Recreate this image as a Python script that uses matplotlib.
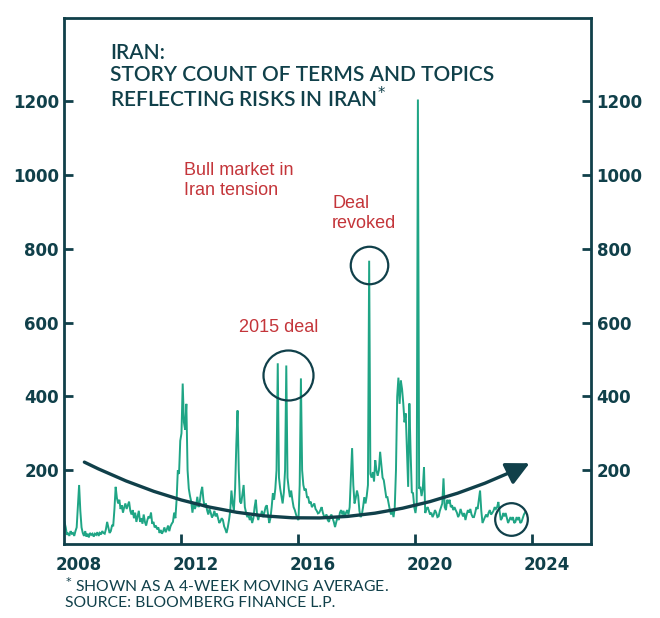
import numpy as np
import matplotlib
matplotlib.use("Agg")
import matplotlib.pyplot as plt
from matplotlib.patches import FancyArrowPatch

# Story count (4-week moving average) at half-month steps
counts_2008 = [60, 45, 25, 30, 22, 35, 28, 30, 22, 35, 45, 100, 160, 90, 45, 30, 22, 35, 20, 28, 18, 30, 25, 28]
counts_2009 = [20, 28, 25, 32, 22, 30, 26, 35, 30, 28, 40, 60, 45, 30, 35, 50, 50, 95, 155, 125, 110, 120, 95, 105]
counts_2010 = [85, 100, 110, 95, 105, 115, 90, 80, 92, 70, 85, 60, 75, 90, 60, 70, 55, 80, 60, 50, 65, 75, 70, 85]
counts_2011 = [55, 60, 45, 50, 40, 45, 30, 38, 28, 35, 45, 32, 40, 50, 35, 48, 55, 60, 85, 70, 120, 200, 190, 280]
counts_2012 = [300, 435, 330, 310, 380, 200, 150, 130, 115, 85, 110, 95, 105, 128, 100, 115, 140, 155, 120, 100, 110, 92, 80, 95]
counts_2013 = [85, 72, 78, 90, 75, 83, 70, 57, 62, 70, 65, 48, 40, 30, 45, 65, 90, 145, 110, 92, 150, 270, 362, 200]
counts_2014 = [115, 110, 135, 160, 100, 85, 73, 80, 65, 75, 57, 70, 100, 120, 80, 65, 80, 75, 90, 73, 85, 100, 105, 80]
counts_2015 = [57, 70, 100, 138, 120, 150, 200, 490, 180, 150, 130, 110, 140, 200, 484, 180, 150, 127, 145, 120, 100, 92, 80, 70]
counts_2016 = [65, 160, 449, 200, 160, 145, 150, 127, 127, 110, 115, 100, 105, 110, 95, 90, 83, 85, 92, 100, 85, 75, 73, 80]
counts_2017 = [65, 60, 73, 80, 70, 60, 46, 60, 73, 65, 85, 92, 80, 90, 73, 85, 92, 80, 100, 180, 260, 160, 110, 125]
counts_2018 = [145, 130, 90, 73, 80, 100, 127, 110, 130, 160, 768, 190, 180, 195, 170, 227, 200, 185, 200, 250, 215, 180, 173, 150]
counts_2019 = [127, 127, 110, 92, 80, 90, 73, 100, 200, 400, 451, 380, 443, 420, 381, 330, 354, 250, 155, 381, 250, 140, 138, 100]
counts_2020 = [84, 110, 1205, 150, 155, 130, 150, 208, 84, 95, 100, 90, 80, 85, 73, 80, 92, 85, 73, 75, 90, 100, 110, 178]
counts_2021 = [100, 92, 120, 110, 120, 100, 105, 92, 100, 92, 85, 73, 80, 95, 84, 75, 84, 65, 80, 92, 85, 95, 80, 73]
counts_2022 = [73, 85, 100, 95, 120, 145, 90, 57, 65, 73, 80, 73, 85, 92, 80, 84, 90, 100, 95, 100, 114, 90, 65, 70]
counts_2023 = [84, 75, 84, 70, 57, 65, 73, 65, 73, 57, 60, 73, 65, 73, 57, 60, 70, 80, 86]

counts = np.array(counts_2008 + counts_2009 + counts_2010 + counts_2011 + counts_2012
                  + counts_2013 + counts_2014 + counts_2015 + counts_2016 + counts_2017
                  + counts_2018 + counts_2019 + counts_2020 + counts_2021 + counts_2022
                  + counts_2023, dtype=float)
years = 2008 + np.arange(len(counts)) / 24.0

y_ticks = [200, 400, 600, 800, 1000, 1200]
x_ticks = [2012, 2016, 2020, 2024]
x_labels = ['2008', '2012', '2016', '2020', '2024']
x_label_pos = [2008.5, 2012.5, 2016.5, 2020.5, 2024.5]   # labels sit half a year right of the ticks

# highlighted episodes (year, value, circle size)
circles = [(2015.64, 457, 36), (2018.41, 757, 27), (2023.27, 68, 23.5)]

DARK = '#10404a'
GREEN = '#1fa585'
RED = '#c4353a'

fig = plt.figure(figsize=(6.6, 6.18), dpi=100, facecolor='white')
ax = fig.add_axes([0.0977, 0.1197, 0.7977, 0.8512])

ax.plot(years, counts, color=GREEN, lw=1.4, solid_joinstyle='miter')

ax.set_xlim(2008.0, 2026.0)
ax.set_ylim(0, 1426)

for s in ax.spines.values():
    s.set_color(DARK)
    s.set_linewidth(2.0)

ax.set_yticks(y_ticks)
ax.tick_params(axis='y', which='both', direction='in', length=6.5, width=2, color=DARK,
               left=True, right=True, labelleft=True, labelright=True, pad=4,
               labelsize=12, labelcolor=DARK)
ax.set_xticks(x_ticks)
ax.set_xticklabels([])
ax.tick_params(axis='x', direction='in', length=7.5, width=2, color=DARK)
for t in ax.yaxis.get_major_ticks():
    t.label1.set_fontweight('bold')
    t.label2.set_fontweight('bold')

trans = ax.get_xaxis_transform()
for pos, lab in zip(x_label_pos, x_labels):
    ax.text(pos, -0.040, lab, transform=trans, ha='center', va='center',
            fontsize=12, fontweight='bold', color=DARK)

# curved trend arrow
arrow = FancyArrowPatch((2008.68, 222), (2023.9, 219), connectionstyle='arc3,rad=0.247',
                        arrowstyle='-|>,head_length=0.7,head_width=0.35', mutation_scale=20,
                        color=DARK, lw=2.4, shrinkA=0, shrinkB=0, zorder=4)
ax.add_patch(arrow)

for cx, cy, ms in circles:
    ax.plot([cx], [cy], marker='o', ms=ms, mfc='none', mec=DARK, mew=1.6, zorder=5)

# title
ax.text(0.086, 0.952, 'IRAN:\nSTORY COUNT OF TERMS AND TOPICS\nREFLECTING RISKS IN IRAN$^{*}$',
        transform=ax.transAxes, ha='left', va='top', fontsize=15, color=DARK,
        family='Lato', fontweight='semibold', linespacing=1.08)

ann = dict(color=RED, fontsize=13, family='Liberation Sans', ha='left', va='top', linespacing=1.2)
ax.text(2012.1, 1035, 'Bull market in\nIran tension', **ann)
ax.text(2017.15, 945, 'Deal\nrevoked', **ann)
ax.text(2013.95, 610, '2015 deal', **ann)

fig.text(0.098, 0.068, '$^{*}$ SHOWN AS A 4-WEEK MOVING AVERAGE.\nSOURCE: BLOOMBERG FINANCE L.P.',
         ha='left', va='top', fontsize=11.3, color=DARK, family='Lato', linespacing=1.1)

fig.savefig('out.png', dpi=100, facecolor='white')
